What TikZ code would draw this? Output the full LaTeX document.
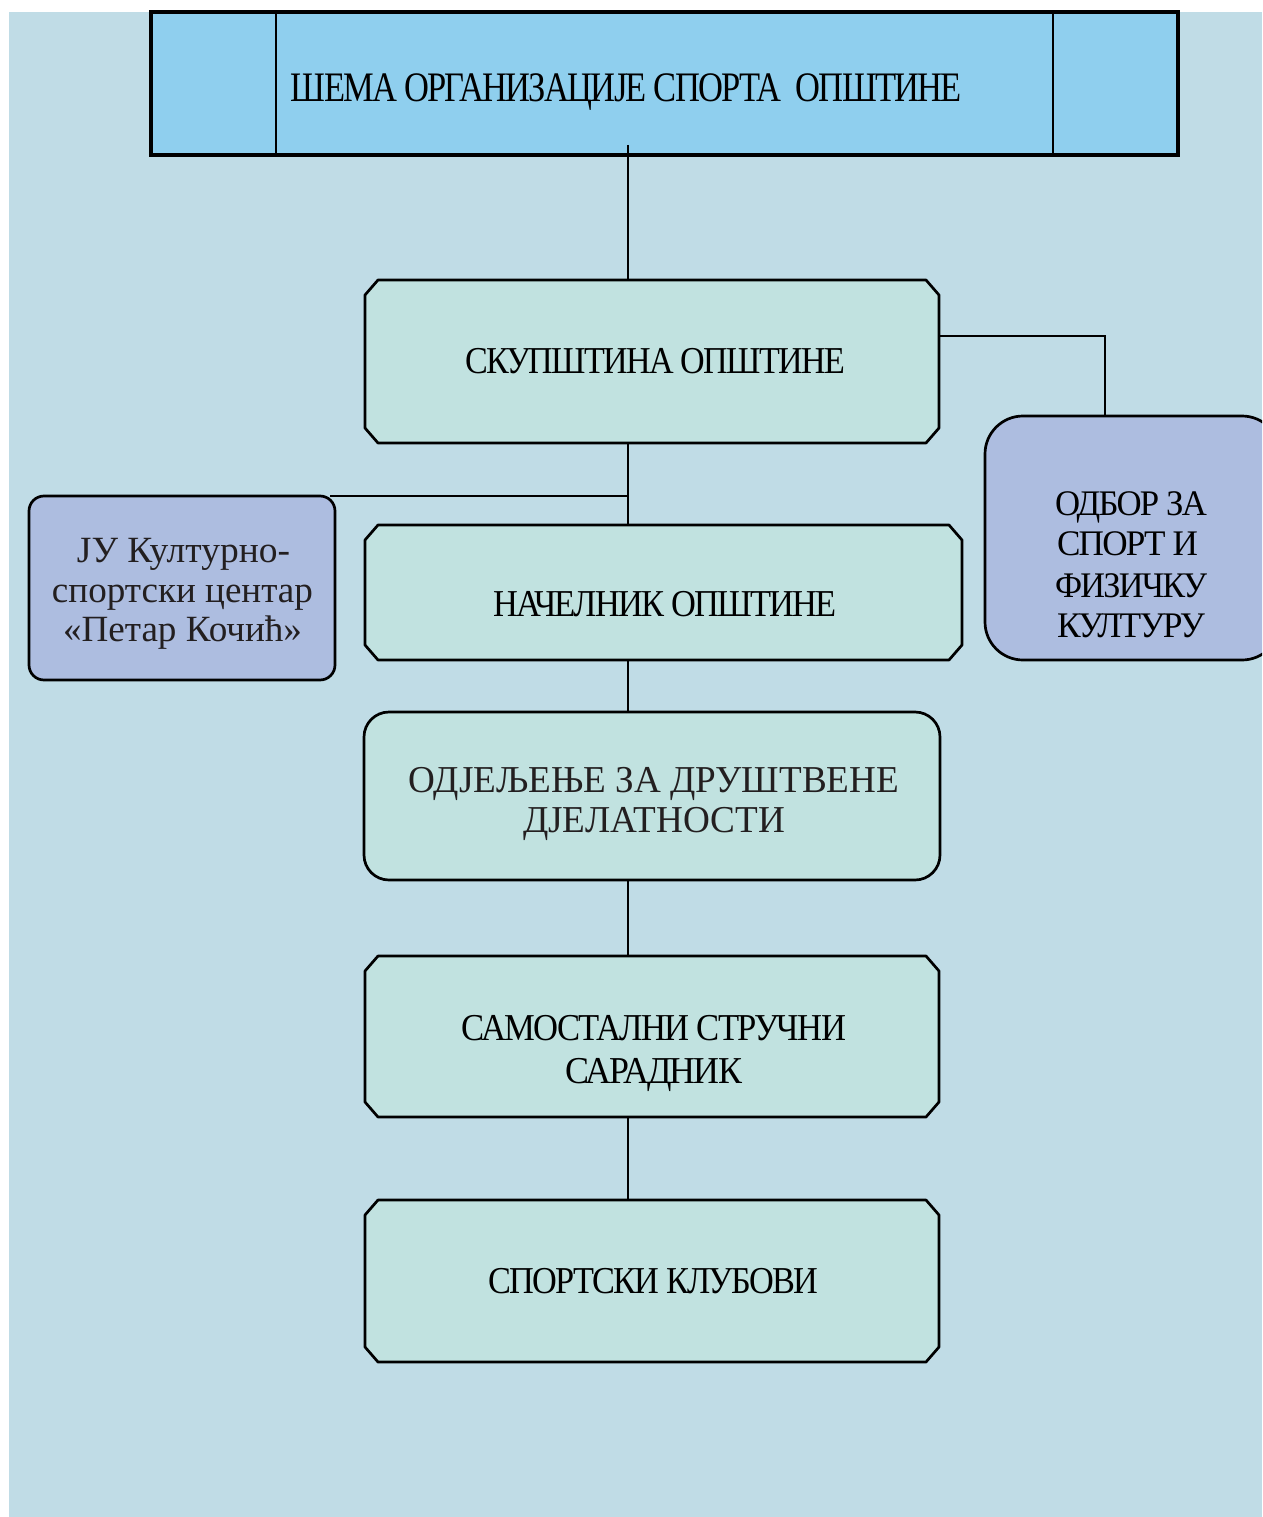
\documentclass[tikz,border=0pt]{standalone}
\usepackage{fontspec}
\setmainfont{Liberation Serif}
\newfontfamily\condf[LetterSpace=-5]{Liberation Serif}
\usetikzlibrary{calc}
\definecolor{bgc}{HTML}{C0DCE6}
\definecolor{ttlc}{HTML}{8FCFEE}
\definecolor{grn}{HTML}{C1E2E0}
\definecolor{prp}{HTML}{ADBDE0}
\definecolor{dtxt}{HTML}{231F20}
\newcommand{\fitw}[2]{\resizebox{#1}{\height}{#2}}
% chamfered outline around a named (invisible) node
\newcommand{\chamfbox}[1]{%
  \filldraw[fill=grn, line width=2.7pt, line join=round]
    ([xshift=13pt]#1.north west) -- ([xshift=-13pt]#1.north east)
    -- ([yshift=-15pt]#1.north east) -- ([yshift=15pt]#1.south east)
    -- ([xshift=-13pt]#1.south east) -- ([xshift=13pt]#1.south west)
    -- ([yshift=15pt]#1.south west) -- ([yshift=-15pt]#1.north west) -- cycle;}
\begin{document}
\begin{tikzpicture}[x=1pt,y=-1pt,
  bx/.style={draw, line width=2.7pt, inner sep=0, outer sep=0},
  slot/.style={inner sep=0, outer sep=0},
  conn/.style={draw, line width=2pt},
  ctxt/.style={anchor=base, inner sep=0, font=\condf\fontsize{38}{40}\selectfont},
  ntxt/.style={anchor=base, inner sep=0, text=dtxt, font=\fontsize{37}{40}\selectfont}]
\useasboundingbox (0,0) rectangle (1262,1517);
\clip (0,0) rectangle (1262,1517);
\fill[white] (0,0) rectangle (1262,1517);
\fill[bgc] (9,12) rectangle (1262,1517);
\coordinate (sp) at (628,0);

% boxes
\node[bx, line width=3.5pt, fill=ttlc, minimum width=1027pt, minimum height=143pt] (title) at (664.5,83.5) {};
\draw[line width=2.5pt] ([xshift=125pt]title.north west) -- ([xshift=125pt]title.south west);
\draw[line width=2.5pt] ([xshift=-125pt]title.north east) -- ([xshift=-125pt]title.south east);

\node[slot, minimum width=574pt, minimum height=163pt] (skup) at (652,361.5) {};
\node[slot, minimum width=597pt, minimum height=135pt] (nac) at (663.5,592.5) {};
\node[slot, minimum width=574pt, minimum height=161pt] (sam) at (652,1036.5) {};
\node[slot, minimum width=574pt, minimum height=162pt] (spk) at (652,1281) {};
\chamfbox{skup}
\chamfbox{nac}
\chamfbox{sam}
\chamfbox{spk}
\node[bx, fill=grn, rounded corners=25pt, minimum width=576pt, minimum height=168pt] (odj) at (652,796) {};
\node[bx, fill=prp, rounded corners=38pt, minimum width=295pt, minimum height=244pt] (odbor) at (1132.5,538) {};
\node[bx, fill=prp, rounded corners=15pt, minimum width=306pt, minimum height=184pt] (ju) at (182,588) {};

% connectors
\draw[conn] ([yshift=10pt]title.south -| sp) -- (skup.north -| sp);
\draw[conn] ($(skup.north east)!0.344!(skup.south east)$) -| ([xshift=-27.5pt]odbor.north);
\draw[conn] (skup.south -| sp) -- (nac.north -| sp);
\draw[conn] ([xshift=-5pt]ju.north east) -- (ju.north east -| sp);
\draw[conn] (nac.south -| sp) -- (odj.north -| sp);
\draw[conn] (odj.south -| sp) -- (sam.north -| sp);
\draw[conn] (sam.south -| sp) -- (spk.north -| sp);

% texts
\node[ctxt, font=\condf\fontsize{42}{46}\selectfont] (tt) at (626.5,102) {\fitw{671pt}{ШЕМА ОРГАНИЗАЦИЈЕ СПОРТА\ \ ОПШТИНЕ}};
\node[ctxt] (skt) at (655,373.6) {\fitw{380pt}{СКУПШТИНА ОПШТИНЕ}};
\node[ctxt] (nat) at (665,616.6) {\fitw{344pt}{НАЧЕЛНИК ОПШТИНЕ}};
\node[ntxt, font=\fontsize{38}{40}\selectfont] (oj1) at (654,792.6) {\fitw{490pt}{ОДЈЕЉЕЊЕ ЗА ДРУШТВЕНЕ}};
\node[ntxt, font=\fontsize{38}{40}\selectfont] (oj2) at (654,832.6) {\fitw{262pt}{ДЈЕЛАТНОСТИ}};
\node[ctxt] (sa1) at (654,1040.6) {\fitw{384pt}{САМОСТАЛНИ СТРУЧНИ}};
\node[ctxt] (sa2) at (653.5,1083.6) {\fitw{177pt}{САРАДНИК}};
\node[ctxt] (spt) at (653,1293.6) {\fitw{330pt}{СПОРТСКИ КЛУБОВИ}};
\node[ctxt, font=\condf\fontsize{36}{40}\selectfont] (ob1) at (1131,515) {\fitw{152pt}{ОДБОР ЗА}};
\node[ctxt, font=\condf\fontsize{36}{40}\selectfont] (ob2) at (1127.5,555) {\fitw{141pt}{СПОРТ И}};
\node[ctxt, font=\condf\fontsize{36}{40}\selectfont] (ob3) at (1131,597) {\fitw{152pt}{ФИЗИЧКУ}};
\node[ctxt, font=\condf\fontsize{36}{40}\selectfont] (ob4) at (1131,637) {\fitw{148pt}{КУЛТУРУ}};
\node[ntxt] (ju1) at (183.5,562) {\fitw{213pt}{ЈУ Културно-}};
\node[ntxt] (ju2) at (182.5,602) {\fitw{261pt}{спортски центар}};
\node[ntxt] (ju3) at (182.5,641) {\fitw{239pt}{«Петар Кочић»}};
\end{tikzpicture}
\end{document}
